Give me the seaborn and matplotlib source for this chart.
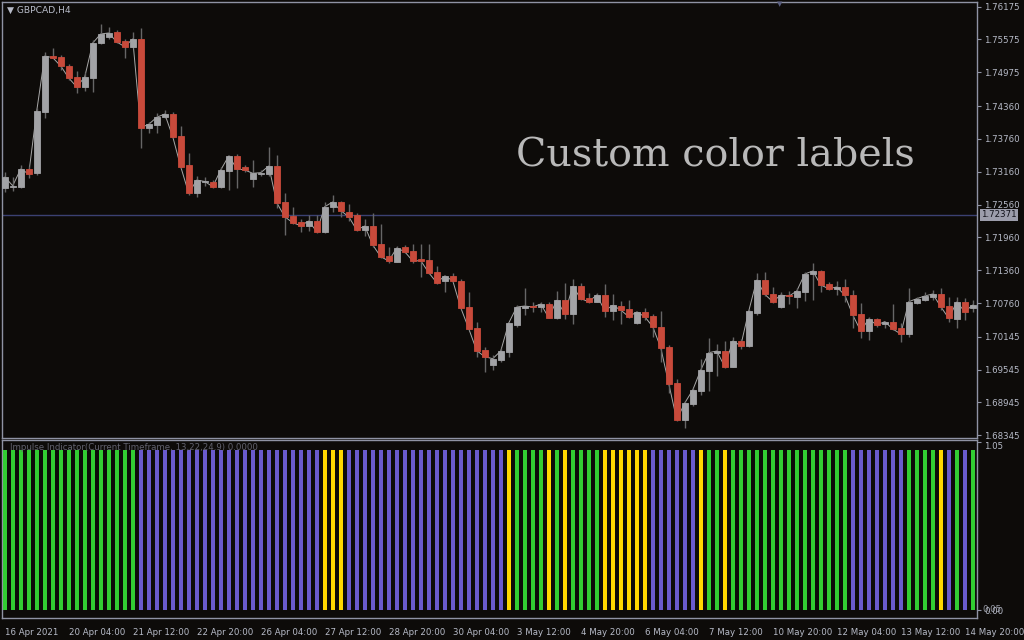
import matplotlib
matplotlib.use("Agg")
import matplotlib.pyplot as plt
import matplotlib.transforms as mtransforms
import numpy as np
import pandas as pd
import seaborn as sns

# ---------------- data (GBPCAD, H4) ----------------
opens = [1.72862, 1.72886, 1.72886, 1.73209, 1.73131, 1.74251, 1.75274, 1.75256, 1.75091, 1.74890,
         1.74708, 1.74872, 1.75511, 1.75627, 1.75712, 1.75548, 1.75444, 1.75585, 1.73964, 1.74013,
         1.74154, 1.74214, 1.73812, 1.73282, 1.72765, 1.72963, 1.72977, 1.72886, 1.73178, 1.73447,
         1.73251, 1.73027, 1.73113, 1.73118, 1.73264, 1.72607, 1.72351, 1.72241, 1.72174, 1.72259,
         1.72064, 1.72521, 1.72607, 1.72424, 1.72369, 1.72095, 1.72168, 1.71839, 1.71620, 1.71516,
         1.71779, 1.71711, 1.71560, 1.71547, 1.71328, 1.71169, 1.71255, 1.71158, 1.70688, 1.70304,
         1.69903, 1.69634, 1.69720, 1.69871, 1.70359, 1.70675, 1.70706, 1.70694, 1.70743, 1.70493,
         1.70811, 1.70566, 1.71066, 1.70847, 1.70785, 1.70907, 1.70621, 1.70706, 1.70652, 1.70401,
         1.70597, 1.70524, 1.70323, 1.69957, 1.69300, 1.68629, 1.68921, 1.69159, 1.69524, 1.69842,
         1.69884, 1.69597, 1.70067, 1.69981, 1.70584, 1.71181, 1.70926, 1.70694, 1.70913, 1.70876,
         1.70968, 1.71286, 1.71346, 1.71108, 1.71022, 1.71054, 1.70907, 1.70560, 1.70250, 1.70469,
         1.70383, 1.70420, 1.70299, 1.70195, 1.70767, 1.70816, 1.70876, 1.70926, 1.70706, 1.70474,
         1.70780, 1.70675]
highs = [1.73155, 1.73063, 1.73282, 1.73270, 1.74324, 1.75347, 1.75420, 1.75292, 1.75128, 1.75000,
         1.74982, 1.75566, 1.75859, 1.75804, 1.75749, 1.75585, 1.75718, 1.75785, 1.74068, 1.74233,
         1.74287, 1.74251, 1.73995, 1.73502, 1.73081, 1.73063, 1.73008, 1.73251, 1.73465, 1.73483,
         1.73282, 1.73374, 1.73191, 1.73611, 1.73465, 1.72765, 1.72515, 1.72296, 1.72369, 1.72369,
         1.72612, 1.72734, 1.72625, 1.72570, 1.72406, 1.72290, 1.72406, 1.72205, 1.71790, 1.71803,
         1.71821, 1.71839, 1.71839, 1.71839, 1.71437, 1.71273, 1.71309, 1.71200, 1.70962, 1.70420,
         1.69957, 1.69811, 1.69939, 1.70414, 1.70725, 1.71035, 1.70785, 1.70785, 1.70780, 1.70975,
         1.71121, 1.71200, 1.71132, 1.70938, 1.70938, 1.71108, 1.70926, 1.70803, 1.70816, 1.70615,
         1.70670, 1.70560, 1.70615, 1.69994, 1.69373, 1.68971, 1.69208, 1.69738, 1.70116, 1.70012,
         1.70067, 1.70146, 1.70104, 1.70652, 1.71304, 1.71333, 1.71059, 1.70957, 1.70980, 1.71041,
         1.71328, 1.71487, 1.71364, 1.71150, 1.71163, 1.71200, 1.70999, 1.70756, 1.70505, 1.70482,
         1.70432, 1.70743, 1.70390, 1.71041, 1.70876, 1.70957, 1.70999, 1.71030, 1.70871, 1.70876,
         1.70847, 1.70816]
lows = [1.72789, 1.72808, 1.72862, 1.73045, 1.73100, 1.74141, 1.75237, 1.75018, 1.74835, 1.74598,
        1.74634, 1.74616, 1.75493, 1.75585, 1.75511, 1.75237, 1.75420, 1.73593, 1.73867, 1.73867,
        1.74141, 1.73776, 1.73228, 1.72734, 1.72698, 1.72899, 1.72862, 1.72862, 1.72826, 1.72862,
        1.73155, 1.72881, 1.73081, 1.73081, 1.72497, 1.72004, 1.72205, 1.72058, 1.72077, 1.72040,
        1.72040, 1.72424, 1.72338, 1.72265, 1.72077, 1.71985, 1.71790, 1.71583, 1.71492, 1.71510,
        1.71675, 1.71492, 1.71242, 1.71291, 1.71108, 1.70968, 1.71145, 1.70652, 1.70268, 1.69780,
        1.69506, 1.69537, 1.69683, 1.69780, 1.70323, 1.70542, 1.70602, 1.70602, 1.70487, 1.70474,
        1.70474, 1.70372, 1.70816, 1.70756, 1.70780, 1.70511, 1.70451, 1.70378, 1.70487, 1.70378,
        1.70451, 1.70135, 1.69689, 1.69111, 1.68611, 1.68483, 1.68879, 1.69080, 1.69159, 1.69428,
        1.69568, 1.69592, 1.69921, 1.69957, 1.70542, 1.70889, 1.70761, 1.70664, 1.70743, 1.70664,
        1.70803, 1.70816, 1.70957, 1.70999, 1.70907, 1.70785, 1.70310, 1.70127, 1.70085, 1.70328,
        1.70299, 1.70268, 1.70054, 1.70146, 1.70743, 1.70798, 1.70816, 1.70633, 1.70420, 1.70299,
        1.70451, 1.70591]
closes = [1.73063, 1.72904, 1.73209, 1.73118, 1.74269, 1.75274, 1.75243, 1.75091, 1.74872, 1.74708,
          1.74890, 1.75511, 1.75676, 1.75694, 1.75530, 1.75444, 1.75585, 1.73964, 1.74026, 1.74154,
          1.74214, 1.73800, 1.73251, 1.72765, 1.73008, 1.72981, 1.72886, 1.73191, 1.73447, 1.73215,
          1.73191, 1.73131, 1.73142, 1.73264, 1.72594, 1.72338, 1.72228, 1.72174, 1.72259, 1.72064,
          1.72521, 1.72607, 1.72448, 1.72338, 1.72095, 1.72168, 1.71821, 1.71607, 1.71529, 1.71766,
          1.71698, 1.71529, 1.71534, 1.71315, 1.71132, 1.71255, 1.71169, 1.70675, 1.70292, 1.69890,
          1.69780, 1.69744, 1.69884, 1.70396, 1.70688, 1.70706, 1.70688, 1.70743, 1.70493, 1.70811,
          1.70566, 1.71066, 1.70840, 1.70785, 1.70907, 1.70621, 1.70719, 1.70633, 1.70511, 1.70597,
          1.70511, 1.70328, 1.69945, 1.69287, 1.68629, 1.68934, 1.69172, 1.69537, 1.69853, 1.69884,
          1.69597, 1.70067, 1.69981, 1.70615, 1.71181, 1.70920, 1.70785, 1.70907, 1.70884, 1.70980,
          1.71291, 1.71346, 1.71090, 1.71022, 1.71054, 1.70907, 1.70542, 1.70250, 1.70469, 1.70359,
          1.70420, 1.70286, 1.70195, 1.70785, 1.70840, 1.70889, 1.70926, 1.70694, 1.70482, 1.70780,
          1.70602, 1.70725]

# Impulse indicator state per bar: G = bullish, P = bearish, Y = neutral
impulse_state = list(
    "GGGGGGGGGGGGGGGGG"
    "PPPPPPPPPPPPPPPPPPPPPPP"
    "YYY"
    "PPPPPPPPPPPPPPPPPPPP"
    "Y" "GGGG" "Y" "G" "Y" "GGGG" "YYYYYY" "PPPPPP" "Y" "GG" "Y"
    "GGGGGGGGGGGGGGG"
    "PPPPPPP"
    "GGGG" "Y" "P" "G" "P" "G"
)
impulse_value = 1.0

time_labels = ["16 Apr 2021", "20 Apr 04:00", "21 Apr 12:00", "22 Apr 20:00", "26 Apr 04:00",
               "27 Apr 12:00", "28 Apr 20:00", "30 Apr 04:00", "3 May 12:00", "4 May 20:00",
               "6 May 04:00", "7 May 12:00", "10 May 20:00", "12 May 04:00", "13 May 12:00",
               "14 May 20:00"]
time_label_bars = [0, 8, 16, 24, 32, 40, 48, 56, 64, 72, 80, 88, 96, 104, 112, 120]

price_ticks = [1.76175, 1.75575, 1.74975, 1.74360, 1.73760, 1.73160, 1.72560, 1.71960,
               1.71360, 1.70760, 1.70145, 1.69545, 1.68945, 1.68345]
current_price = 1.72371

# ---------------- style ----------------
BG = "#0d0b09"
FRAME = "#8f93a4"
TXT = "#b7bbc8"
UP = "#a2a3a6"
DOWN = "#c84a3b"
WICK = "#666666"
state_palette = {"G": "#32cd32", "P": "#6a5acd", "Y": "#ffd700"}
FS = 6.2

sns.set_theme(style="dark", rc={"figure.facecolor": BG, "axes.facecolor": BG,
                                 "axes.edgecolor": FRAME, "axes.grid": False})
plt.rcParams["font.family"] = ["DejaVu Sans"]

W, H = 1024, 640
fig = plt.figure(figsize=(W / 100, H / 100), dpi=100)
fig.patch.set_facecolor(BG)

def frac_box(x0, y0, x1, y1):
    return [x0 / W, 1 - y1 / H, (x1 - x0) / W, (y1 - y0) / H]

ax = fig.add_axes(frac_box(2, 2, 977, 437.5))
axi = fig.add_axes(frac_box(2, 440, 977, 618))

n = len(closes)
df = pd.DataFrame({"bar": np.arange(n), "open": opens, "high": highs,
                   "low": lows, "close": closes})
df["up"] = df["close"] >= df["open"]
df["body_lo"] = df[["open", "close"]].min(axis=1)
df["body_h"] = (df["close"] - df["open"]).abs()

# close line (drawn under the candles)
sns.lineplot(data=df, x="bar", y="close", ax=ax, color="#a8a8a8", lw=0.7, zorder=1)
# wicks
ax.vlines(df["bar"], df["low"], df["high"], color=WICK, lw=1.0, zorder=2)
# bodies
cols = [UP if u else DOWN for u in df["up"]]
ax.bar(df["bar"], df["body_h"], bottom=df["body_lo"], width=0.8, color=cols,
       edgecolor=cols, linewidth=0.6, zorder=3)

ax.axhline(current_price, color="#3b4172", lw=1.0, zorder=0.5)

ax.set_xlim(-0.34, 121.53)
ax.set_ylim(1.68304, 1.76260)
ax.set_xlabel("")
ax.set_ylabel("")
ax.set_xticks([])
ax.yaxis.tick_right()
ax.set_yticks(price_ticks)
ax.set_yticklabels([f"{p:.5f}" for p in price_ticks])
ax.tick_params(axis="y", colors=FRAME, labelcolor=TXT, labelsize=FS, length=3,
               width=0.8, pad=2, direction="out")
for s in ax.spines.values():
    s.set_color(FRAME)
    s.set_linewidth(1.0)

# current price tag
trans = mtransforms.blended_transform_factory(ax.transAxes, ax.transData)
ax.text(1.004, current_price, f"{current_price:.5f}", transform=trans, ha="left", va="center",
        fontsize=FS, color="#101018",
        bbox=dict(boxstyle="square,pad=0.15", facecolor="#9c9dab", edgecolor="none"))

# ---------------- indicator ----------------
di = pd.DataFrame({"bar": np.arange(len(impulse_state)), "state": impulse_state,
                   "value": [impulse_value] * len(impulse_state)})
sns.barplot(data=di, x="bar", y="value", hue="state", palette=state_palette,
            native_scale=True, dodge=False, width=0.55, legend=False, ax=axi,
            linewidth=0, saturation=1, zorder=3)
axi.set_xlim(-0.34, 121.53)
axi.set_ylim(-0.05, 1.0625)
axi.set_xlabel("")
axi.set_ylabel("")
axi.yaxis.tick_right()
axi.set_yticks([1.05, 0.0])
axi.set_yticklabels(["1.05", "0.00"])
axi.tick_params(axis="y", colors=FRAME, labelcolor=TXT, labelsize=FS, length=3,
                width=0.8, pad=2)
axi.get_yticklabels()[0].set_va("top")
trans_i = mtransforms.blended_transform_factory(axi.transAxes, axi.transData)
axi.text(1.0 + 5 / 975, 0.0, "0.05", transform=trans_i, ha="left", va="center",
         fontsize=FS, color=TXT, alpha=0.8)
axi.set_xticks(time_label_bars)
axi.set_xticklabels(time_labels, ha="left")
axi.tick_params(axis="x", colors=FRAME, labelcolor=TXT, labelsize=FS, length=4,
                width=0.8, pad=3)
for s in axi.spines.values():
    s.set_color(FRAME)
    s.set_linewidth(1.0)

axi.text(8 / 975, 0.985, "Impulse Indicator(Current Timeframe, 13,22,24.9) 0.0000",
         transform=axi.transAxes, ha="left", va="top", fontsize=FS, color="#62626e",
         zorder=5)

# ---------------- texts ----------------
fig.text(7 / W, 1 - 10 / H, "\u25BC GBPCAD,H4", ha="left", va="center",
         fontsize=6.6, color=TXT)
fig.text(780 / W, 1 - 4 / H, "\u25BC", ha="center", va="center", fontsize=5,
         color="#5a5f80")
fig.text(516 / W, 1 - 156 / H, "Custom color labels", ha="left", va="center",
         fontsize=28.5, color="#b9b9b9", family="DejaVu Serif")

fig.savefig("out.png", dpi=100, facecolor=BG)
